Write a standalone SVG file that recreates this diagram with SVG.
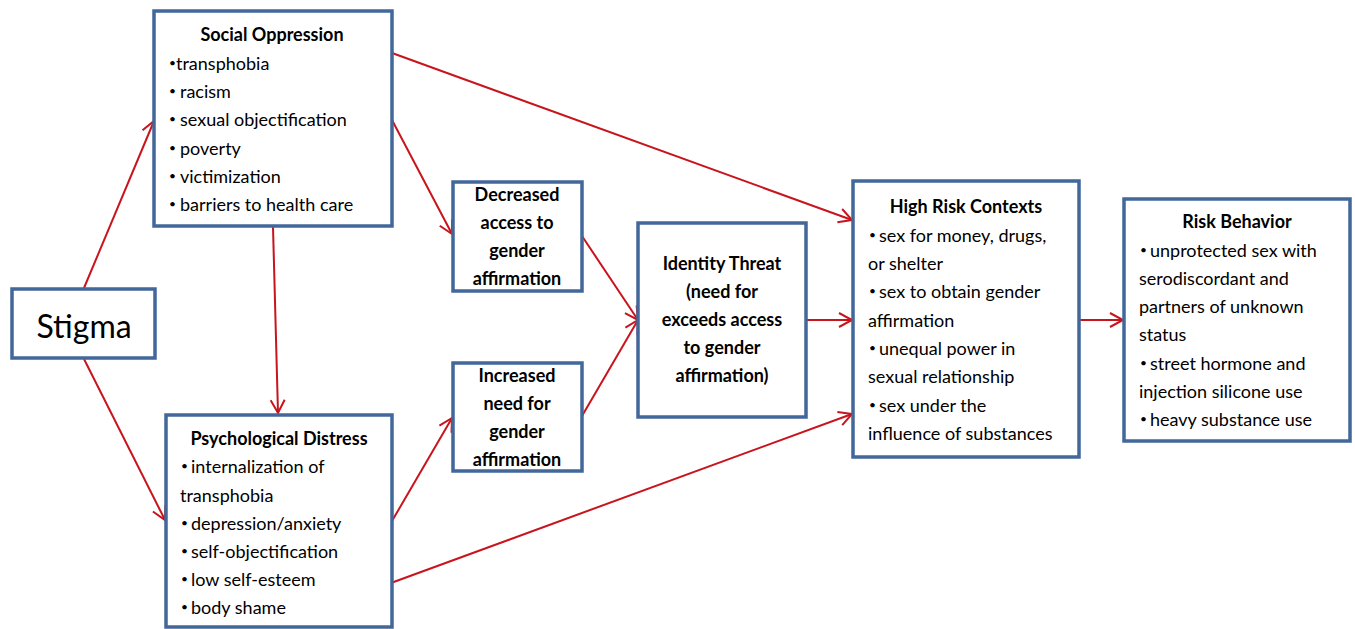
<svg xmlns="http://www.w3.org/2000/svg" width="1355" height="629" viewBox="0 0 1355 629">
<style>
.box{fill:#fff;stroke:#41679b;stroke-width:3.5}
text{font-family:Lato,"Open Sans","Liberation Sans",sans-serif;font-size:18px;fill:#000}
.b{font-weight:bold}
.c{text-anchor:middle}
.bl{font-size:12px}
.con line{stroke:#c8141c;stroke-width:2;fill:none}
</style>
<defs>
<marker id="ah" markerUnits="userSpaceOnUse" markerWidth="18" markerHeight="18" refX="14" refY="8" orient="auto">
<path d="M1,1 L14,8 L1,15" fill="none" stroke="#c8141c" stroke-width="2"/>
</marker>
</defs>
<rect width="1355" height="629" fill="#fff"/>
<g class="con">
<line x1="84" y1="288" x2="154" y2="121" marker-end="url(#ah)"/>
<line x1="84" y1="359" x2="165" y2="520" marker-end="url(#ah)"/>
<line x1="273" y1="227" x2="278" y2="413" marker-end="url(#ah)"/>
<line x1="392" y1="120" x2="452" y2="234" marker-end="url(#ah)"/>
<line x1="392" y1="53" x2="852" y2="220" marker-end="url(#ah)"/>
<line x1="582" y1="236" x2="638" y2="320" marker-end="url(#ah)"/>
<line x1="582" y1="416" x2="638" y2="320" marker-end="url(#ah)"/>
<line x1="392" y1="521" x2="452" y2="418" marker-end="url(#ah)"/>
<line x1="380" y1="587" x2="852" y2="414" marker-end="url(#ah)"/>
<line x1="806" y1="320" x2="852" y2="320" marker-end="url(#ah)"/>
<line x1="1080" y1="320" x2="1123" y2="320" marker-end="url(#ah)"/>
</g>
<g id="stigma">
<rect class="box" x="12" y="289" width="143" height="69"/>
<text class="c" x="84" y="338" style="font-size:32px">Stigma</text>
</g>
<g id="social">
<rect class="box" x="154" y="11" width="238" height="215"/>
<text class="b c" x="272" y="41">Social Oppression</text>
<text class="bl" x="169" y="67">•</text><text x="176" y="70">transphobia</text>
<text class="bl" x="169" y="95">•</text><text x="180" y="98">racism</text>
<text class="bl" x="169" y="123">•</text><text x="180" y="126">sexual objectification</text>
<text class="bl" x="169" y="152">•</text><text x="180" y="155">poverty</text>
<text class="bl" x="169" y="180">•</text><text x="180" y="183">victimization</text>
<text class="bl" x="169" y="208">•</text><text x="180" y="211">barriers to health care</text>
</g>
<g id="psych">
<rect class="box" x="166" y="415" width="226" height="212"/>
<text class="b c" x="279" y="445">Psychological Distress</text>
<text class="bl" x="181" y="470">•</text><text x="191" y="473">internalization of</text>
<text x="180" y="502">transphobia</text>
<text class="bl" x="181" y="527">•</text><text x="191" y="530">depression/anxiety</text>
<text class="bl" x="181" y="555">•</text><text x="191" y="558">self-objectification</text>
<text class="bl" x="181" y="583">•</text><text x="191" y="586">low self-esteem</text>
<text class="bl" x="181" y="611">•</text><text x="191" y="614">body shame</text>
</g>
<g id="decreased">
<rect class="box" x="453" y="182" width="129" height="109"/>
<text class="b c" x="517" y="201">Decreased</text>
<text class="b c" x="517" y="229">access to</text>
<text class="b c" x="517" y="257">gender</text>
<text class="b c" x="517" y="285">affirmation</text>
</g>
<g id="increased">
<rect class="box" x="453" y="363" width="129" height="108"/>
<text class="b c" x="517" y="382">Increased</text>
<text class="b c" x="517" y="410">need for</text>
<text class="b c" x="517" y="438">gender</text>
<text class="b c" x="517" y="466">affirmation</text>
</g>
<g id="identity">
<rect class="box" x="638" y="223" width="168" height="194"/>
<text class="b c" x="722" y="270">Identity Threat</text>
<text class="b c" x="722" y="298">(need for</text>
<text class="b c" x="722" y="326">exceeds access</text>
<text class="b c" x="722" y="354">to gender</text>
<text class="b c" x="722" y="382">affirmation)</text>
</g>
<g id="highrisk">
<rect class="box" x="853" y="181" width="226" height="276"/>
<text class="b c" x="966" y="213">High Risk Contexts</text>
<text class="bl" x="869" y="239">•</text><text x="879" y="242">sex for money, drugs,</text>
<text x="868" y="270">or shelter</text>
<text class="bl" x="869" y="295">•</text><text x="879" y="298">sex to obtain gender</text>
<text x="868" y="327">affirmation</text>
<text class="bl" x="869" y="352">•</text><text x="879" y="355">unequal power in</text>
<text x="868" y="383">sexual relationship</text>
<text class="bl" x="869" y="409">•</text><text x="879" y="412">sex under the</text>
<text x="868" y="440">influence of substances</text>
</g>
<g id="riskbehavior">
<rect class="box" x="1124" y="199" width="226" height="242"/>
<text class="b c" x="1237" y="228">Risk Behavior</text>
<text class="bl" x="1140" y="254">•</text><text x="1150" y="257">unprotected sex with</text>
<text x="1139" y="285">serodiscordant and</text>
<text x="1139" y="313">partners of unknown</text>
<text x="1139" y="341">status</text>
<text class="bl" x="1140" y="367">•</text><text x="1150" y="370">street hormone and</text>
<text x="1139" y="398">injection silicone use</text>
<text class="bl" x="1140" y="423">•</text><text x="1150" y="426">heavy substance use</text>
</g>
</svg>
